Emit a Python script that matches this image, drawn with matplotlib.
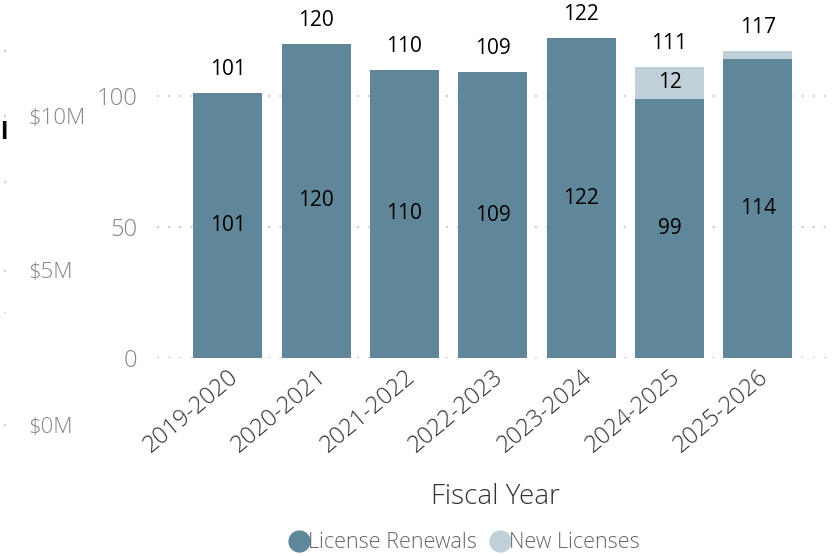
import matplotlib.pyplot as plt
from matplotlib.lines import Line2D
import numpy as np

plt.rcParams["font.family"] = ["Open Sans", "DejaVu Sans"]

years = ["2019-2020", "2020-2021", "2021-2022", "2022-2023",
         "2023-2024", "2024-2025", "2025-2026"]
renewals = [101, 120, 110, 109, 122, 99, 114]
new_licenses = [0, 0, 0, 0, 0, 12, 3]
count_ticks = [0, 50, 100]
money_ticks = [0, 5, 10]
money_labels = ["$0M", "$5M", "$10M"]

DARK = "#5f8799"
LIGHT = "#bfd0d8"
GRID = "#d2d2d2"

W, H = 833, 556
fig = plt.figure(figsize=(W / 100, H / 100), dpi=100)


def px_axes(x0, y_bottom, x1, y_top):
    # axes placed by pixel edges (y measured from the top of the canvas)
    return fig.add_axes([x0 / W, 1 - y_bottom / H, (x1 - x0) / W, (y_bottom - y_top) / H])


def dotted_grid(ax):
    ax.grid(axis="y", color=GRID, linestyle=(0, (1, 4)), linewidth=1.6)
    ax.set_axisbelow(True)
    for s in ax.spines.values():
        s.set_visible(False)


# main chart
ax = px_axes(157, 358, 833, 0)
x = np.arange(len(years))
totals = [r + n for r, n in zip(renewals, new_licenses)]
ax.bar(x, renewals, width=0.78, color=DARK)
ax.bar(x, new_licenses, width=0.78, bottom=renewals, color=LIGHT)
ax.set_xlim(-0.8, 6.85)
ax.set_ylim(0, 358 / 2.62)
dotted_grid(ax)
ax.set_yticks(count_ticks)
ax.tick_params(axis="y", length=0, pad=14, labelsize=17, labelcolor="#858585")
ax.set_xticks(x)
ax.set_xticklabels(years, rotation=40, ha="right", rotation_mode="anchor",
                   fontsize=17, color="#333333")
ax.tick_params(axis="x", length=0, pad=5)
for lbl in ax.get_yticklabels() + ax.get_xticklabels():
    lbl.set_fontweight("light")

for i in x:
    ax.text(i, renewals[i] / 2, str(renewals[i]), ha="center", va="center",
            fontsize=15, color="black")
    if new_licenses[i] >= 8:
        ax.text(i, renewals[i] + new_licenses[i] / 2, str(new_licenses[i]),
                ha="center", va="center", fontsize=15, color="black")
    ax.text(i, totals[i] + 9, str(totals[i]), ha="center", va="center",
            fontsize=15, color="black")

ax.set_xlabel("Fiscal Year", fontsize=20, color="#333333", fontweight="light",
              labelpad=18)

# secondary money axis on the far left
ax_m = px_axes(4, H, 9, 0)
ax_m.set_ylim(-(H - 425) / 30.9, 425 / 30.9)
ax_m.set_xlim(0, 1)
dotted_grid(ax_m)
ax_m.set_xticks([])
ax_m.yaxis.tick_right()
ax_m.set_yticks(money_ticks)
ax_m.set_yticklabels(money_labels)
ax_m.tick_params(axis="y", length=0, pad=14, labelsize=16, labelcolor="#858585")
for lbl in ax_m.get_yticklabels():
    lbl.set_fontweight("light")
ax_m.patch.set_alpha(0)

# faint count gridlines behind it
ax_g = px_axes(4, 313, 9, 0)
ax_g.set_ylim(0, 313 / 2.62)
ax_g.set_xlim(0, 1)
dotted_grid(ax_g)
ax_g.set_xticks([])
ax_g.set_yticks(count_ticks)
ax_g.set_yticklabels([])
ax_g.tick_params(axis="y", length=0)
ax_g.patch.set_alpha(0)

fig.text(0.0, 1 - 133 / H, "l", fontsize=17, fontweight="bold",
         color="black", ha="left", va="center")

handles = [Line2D([], [], marker="o", linestyle="", markersize=15, color=DARK),
           Line2D([], [], marker="o", linestyle="", markersize=15, color=LIGHT)]
leg = fig.legend(handles, ["License Renewals", "New Licenses"], loc="center",
                 bbox_to_anchor=(463 / W, 1 - 543 / H), ncol=2, frameon=False,
                 handletextpad=-0.2, columnspacing=0.5, handlelength=1.2,
                 prop={"size": 15.5, "weight": "light"})
for t in leg.get_texts():
    t.set_color("#666666")

fig.savefig("out.png", dpi=100)
